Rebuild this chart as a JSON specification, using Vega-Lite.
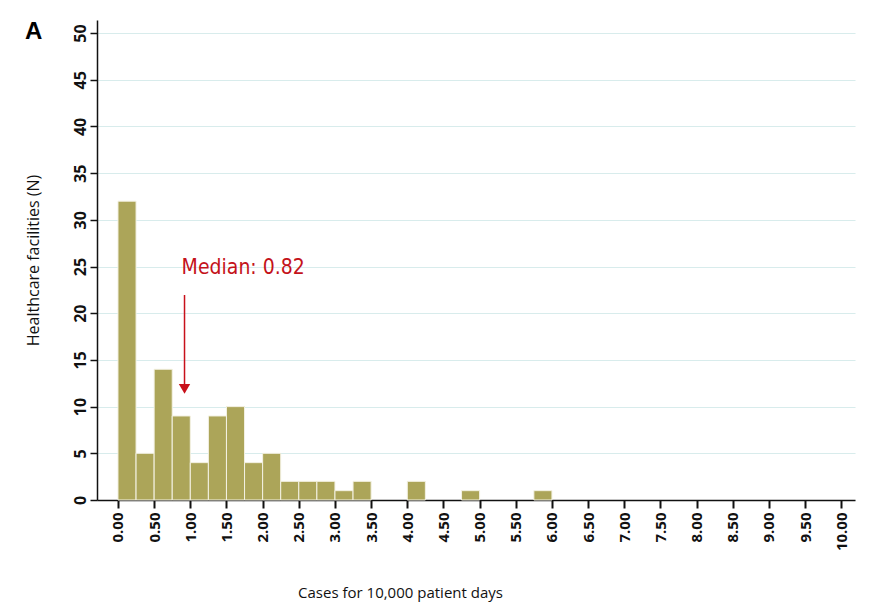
{
  "$schema": "https://vega.github.io/schema/vega-lite/v6.json",
  "width": 758,
  "height": 480,
  "autosize": {"type": "none"},
  "padding": {"left": 97, "top": 20, "right": 26, "bottom": 112},
  "background": "white",
  "config": {"view": {"stroke": null}, "font": "Open Sans", "axis": {"labelOverlap": false}},
  "title": {"text": "A", "anchor": "start", "frame": "group", "orient": "top", "fontSize": 24, "fontWeight": "bold", "font": "Liberation Sans", "dx": -72, "dy": 24, "baseline": "top", "offset": 0},
  "datasets": {
    "bins": [
      {"x": 0.0, "hi": 0.25, "y": 32},
      {"x": 0.25, "hi": 0.5, "y": 5},
      {"x": 0.5, "hi": 0.75, "y": 14},
      {"x": 0.75, "hi": 1.0, "y": 9},
      {"x": 1.0, "hi": 1.25, "y": 4},
      {"x": 1.25, "hi": 1.5, "y": 9},
      {"x": 1.5, "hi": 1.75, "y": 10},
      {"x": 1.75, "hi": 2.0, "y": 4},
      {"x": 2.0, "hi": 2.25, "y": 5},
      {"x": 2.25, "hi": 2.5, "y": 2},
      {"x": 2.5, "hi": 2.75, "y": 2},
      {"x": 2.75, "hi": 3.0, "y": 2},
      {"x": 3.0, "hi": 3.25, "y": 1},
      {"x": 3.25, "hi": 3.5, "y": 2},
      {"x": 4.0, "hi": 4.25, "y": 2},
      {"x": 4.75, "hi": 5.0, "y": 1},
      {"x": 5.75, "hi": 6.0, "y": 1}
    ],
    "note": [{"x": 0.88, "y": 24.8, "label": "Median: 0.82"}],
    "shaft": [{"x": 0.92, "y": 21.95, "bottom": 12.3}],
    "tip": [{"x": 0.92, "y": 11.9}]
  },
  "encoding": {
    "x": {
      "field": "x", "type": "quantitative",
      "scale": {"domain": [-0.29, 10.19], "nice": false, "zero": false},
      "axis": {
        "values": [0, 0.5, 1, 1.5, 2, 2.5, 3, 3.5, 4, 4.5, 5, 5.5, 6, 6.5, 7, 7.5, 8, 8.5, 9, 9.5, 10],
        "format": ".2f", "labelAngle": -90, "labelFontSize": 15, "labelFontWeight": "bold",
        "labelColor": "#111", "labelPadding": 4, "labelOverlap": false, "labelFlush": false,
        "tickSize": 8, "tickColor": "#111", "tickWidth": 2, "domainColor": "#111", "domainWidth": 1.5,
        "grid": false,
        "title": "Cases for 10,000 patient days", "titleFontSize": 15, "titleFontWeight": "normal",
        "titleColor": "#111",
        "titleX": 303, "titleY": 92, "titleAlign": "center", "titleBaseline": "middle"
      }
    },
    "y": {
      "field": "y", "type": "quantitative",
      "scale": {"domain": [0, 51.4], "nice": false},
      "axis": {
        "values": [0, 5, 10, 15, 20, 25, 30, 35, 40, 45, 50],
        "labelAngle": -90, "labelFontSize": 16, "labelFontWeight": "bold",
        "labelColor": "#111", "labelPadding": 2,
        "tickSize": 7, "tickColor": "#111", "tickWidth": 1.5, "domainColor": "#111", "domainWidth": 1.5,
        "grid": true, "gridColor": "#d8ecec", "gridWidth": 1.2,
        "title": "Healthcare facilities (N)", "titleFontSize": 16, "titleFontWeight": "normal",
        "titleColor": "#111", "titlePadding": 31
      }
    }
  },
  "layer": [
    {
      "data": {"name": "bins"},
      "mark": {"type": "rect", "color": "#aca559", "stroke": "#f4f2e4", "strokeWidth": 1},
      "encoding": {
        "x2": {"field": "hi"},
        "y2": {"datum": 0}
      }
    },
    {
      "data": {"name": "note"},
      "mark": {"type": "text", "align": "left", "baseline": "middle", "color": "#c4121a", "fontSize": 21, "font": "DejaVu Sans Condensed, Roboto"},
      "encoding": {
        "text": {"field": "label"}
      }
    },
    {
      "data": {"name": "shaft"},
      "mark": {"type": "rule", "color": "#c8101a", "strokeWidth": 1.5},
      "encoding": {
        "y2": {"field": "bottom"}
      }
    },
    {
      "data": {"name": "tip"},
      "mark": {"type": "point", "shape": "triangle-down", "filled": true, "color": "#c8101a", "size": 130, "opacity": 1},
      "encoding": {}
    }
  ]
}
